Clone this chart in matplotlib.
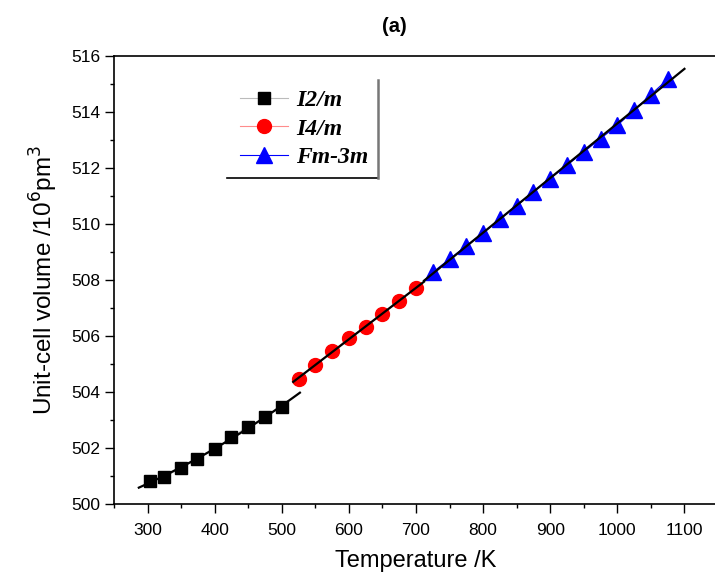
import numpy as np
import matplotlib.pyplot as plt
from matplotlib.ticker import MultipleLocator
from matplotlib.lines import Line2D

# Datos
t_i2m = [303, 325, 350, 374, 400, 425, 449, 475, 500]
v_i2m = [500.82, 500.97, 501.28, 501.60, 501.96, 502.38, 502.76, 503.09, 503.48]

t_i4m = [525, 550, 575, 600, 625, 650, 675, 700]
v_i4m = [504.47, 504.98, 505.45, 505.92, 506.32, 506.80, 507.25, 507.72]

t_fm3m = [725, 750, 775, 800, 825, 850, 875, 900, 925, 950, 975, 1000, 1025, 1050, 1075]
v_fm3m = [508.28, 508.75, 509.22, 509.68, 510.17, 510.65, 511.15, 511.62, 512.10,
          512.57, 513.05, 513.52, 514.07, 514.62, 515.17]

sans = ['Liberation Sans', 'DejaVu Sans']
serif = ['Liberation Serif', 'DejaVu Serif']

fig = plt.figure(figsize=(7.15, 5.76), dpi=100)
ax = fig.add_axes([114 / 715, 72 / 576, 604 / 715, 448 / 576])

ax.plot(t_i2m, v_i2m, color='#bbbbbb', lw=0.8, marker='s', ms=9,
        mfc='black', mec='black', label='I2/m', zorder=3)
ax.plot(t_i4m, v_i4m, color='#ff8c8c', lw=0.8, marker='o', ms=10,
        mfc='red', mec='red', label='I4/m', zorder=3)
ax.plot(t_fm3m, v_fm3m, color='blue', lw=0.8, marker='^', ms=11.5,
        mfc='blue', mec='blue', label='Fm-3m', zorder=3)

# Ajustes (líneas negras)
p1 = np.polyfit(t_i2m, v_i2m, 2)
x1 = np.linspace(287, 527, 50)
ax.plot(x1, np.polyval(p1, x1), color='black', lw=1.6, zorder=4)
p2 = np.polyfit(t_i4m, v_i4m, 1)
x2 = np.linspace(517, 712, 20)
ax.plot(x2, np.polyval(p2, x2), color='black', lw=1.6, zorder=4)
p3 = np.polyfit(t_fm3m, v_fm3m, 1)
x3 = np.linspace(712, 1100, 20)
ax.plot(x3, np.polyval(p3, x3), color='black', lw=1.6, zorder=4)

ax.set_xlim(250, 1150)
ax.set_ylim(500, 516)
ax.xaxis.set_minor_locator(MultipleLocator(50))
ax.yaxis.set_major_locator(MultipleLocator(2))
ax.yaxis.set_minor_locator(MultipleLocator(1))
ax.set_xticks(range(300, 1101, 100))
ax.tick_params(which='major', direction='out', length=6.5, width=1, labelsize=12.5)
ax.tick_params(axis='x', which='major', pad=7)
ax.tick_params(which='minor', direction='out', length=3, width=1)
for lab in ax.get_xticklabels() + ax.get_yticklabels():
    lab.set_family(sans)
for s in ax.spines.values():
    s.set_linewidth(1.2)

ax.set_xlabel('Temperature /K', fontsize=17, family=sans, labelpad=9)
ax.set_ylabel('Unit-cell volume /10$^6$pm$^3$', fontsize=17.5, family=sans, labelpad=8)
ax.set_title('(a)', fontsize=14.5, fontweight='bold', family=sans, pad=17, x=0.464)

leg = ax.legend(loc='upper left', bbox_to_anchor=(231 / 715, 1 - 80 / 576),
                bbox_transform=fig.transFigure, borderaxespad=0, frameon=False,
                handlelength=2.0, handletextpad=0.35, borderpad=0.4, labelspacing=0.3,
                prop={'family': serif, 'style': 'italic', 'weight': 'bold', 'size': 17})

# marco de la leyenda: solo borde inferior y derecho
fig.canvas.draw()
bb = leg.get_window_extent().transformed(fig.transFigure.inverted())
fig.add_artist(Line2D([bb.x0 - 0.005, bb.x1], [bb.y0, bb.y0], color='black', lw=1.2,
                      transform=fig.transFigure))
fig.add_artist(Line2D([bb.x1, bb.x1], [bb.y0, bb.y1], color='#777777', lw=1.8,
                      transform=fig.transFigure))

plt.savefig('out.png', dpi=100)
